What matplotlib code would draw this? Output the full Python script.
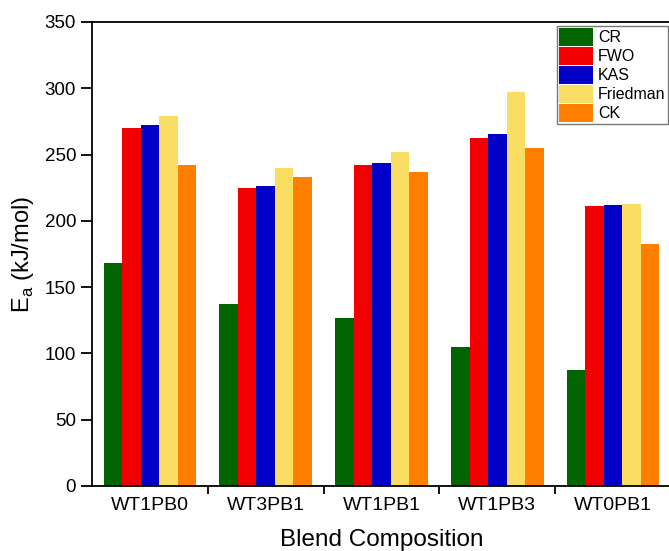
import numpy as np
import matplotlib.pyplot as plt
from matplotlib.ticker import FixedLocator

plt.rcParams['font.family'] = ['Liberation Sans', 'DejaVu Sans']

blends = ['WT1PB0', 'WT3PB1', 'WT1PB1', 'WT1PB3', 'WT0PB1']
methods = ['CR', 'FWO', 'KAS', 'Friedman', 'CK']
cr = [168, 137, 126.5, 105, 87.5]
fwo = [270, 225, 242, 262.5, 211.5]
kas = [272.5, 226, 244, 265.5, 212]
friedman = [279, 240, 252, 297.5, 213]
ck = [242, 233, 237, 255, 182.5]
colors = ['#006400', '#F00000', '#0000C8', '#FADE64', '#FF8000']

series = [cr, fwo, kas, friedman, ck]
x = np.arange(len(blends))
w = 0.16

fig = plt.figure(figsize=(6.69, 5.51), dpi=100)
ax = fig.add_axes([92 / 669, 65 / 551, 579 / 669, 464 / 551])

for i, (vals, name) in enumerate(zip(series, methods)):
    ax.bar(x + (i - 2) * w, vals, width=w, color=colors[i], label=name,
           edgecolor='none')

ax.set_xlim(-0.5, 4.5)
ax.set_ylim(0, 350)
ax.set_yticks(range(0, 351, 50))
ax.set_xticks(x)
ax.set_xticklabels(blends)
# group separators as minor ticks between the categories
ax.xaxis.set_minor_locator(FixedLocator(np.arange(0.5, 4.5, 1)))
ax.tick_params(axis='x', which='major', length=0, labelsize=14, pad=8)
ax.tick_params(axis='x', which='minor', length=6, width=1.3, direction='out')
ax.tick_params(axis='y', length=8, width=1.3, labelsize=13.5, direction='out')

for s in ['left', 'bottom', 'top', 'right']:
    ax.spines[s].set_linewidth(1.3)

ax.set_ylabel('E$_\\mathregular{a}$ (kJ/mol)', fontsize=17, labelpad=6)
ax.set_xlabel('Blend Composition', fontsize=17.5, labelpad=10.5)

leg = ax.legend(loc='upper right', bbox_to_anchor=(0.9948, 0.9915), fontsize=11.5,
                frameon=True, fancybox=False, edgecolor='#555555',
                handlelength=2.1, handleheight=1.3, handletextpad=0.35,
                labelspacing=0.1, borderpad=0.15, borderaxespad=0)
leg.get_frame().set_linewidth(1.0)

fig.savefig('out.png', dpi=100)
